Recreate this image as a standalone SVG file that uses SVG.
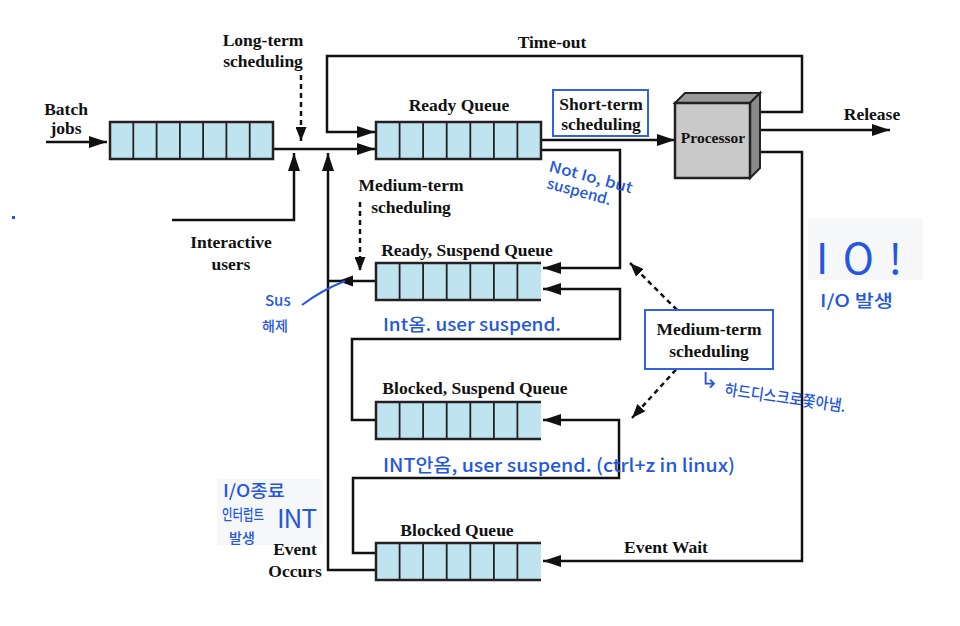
<svg xmlns="http://www.w3.org/2000/svg" width="960" height="626" viewBox="0 0 960 626">
<defs>
<style>
.lbl{font-family:"Liberation Serif","Times New Roman",serif;font-weight:bold;font-size:17.5px;fill:#111;text-anchor:middle}
.q{fill:#c0e4ef}
.qb{fill:none;stroke:#222;stroke-width:2.5}
.cell{stroke:#222;stroke-width:1.8}
.ln{fill:none;stroke:#111;stroke-width:2.5}
.dot{fill:none;stroke:#111;stroke-width:2.5;stroke-dasharray:5,4}
.hw{font-family:"Noto Sans CJK KR","Noto Sans",sans-serif;fill:#2457e0;font-size:16px}
.blue{fill:none;stroke:#2457e0;stroke-width:2}
</style>
<marker id="arr" markerUnits="userSpaceOnUse" markerWidth="18" markerHeight="12" refX="18" refY="6" viewBox="0 0 18 12" orient="auto">
<path d="M0,0 L18,6 L0,12 z" fill="#111"/>
</marker>
<marker id="arrs" markerUnits="userSpaceOnUse" markerWidth="14" markerHeight="11" refX="14" refY="5.5" viewBox="0 0 14 11" orient="auto">
<path d="M0,0 L14,5.5 L0,11 z" fill="#111"/>
</marker>
</defs>
<rect width="960" height="626" fill="#fff"/>

<!-- handwritten backgrounds -->
<rect x="808" y="218" width="115" height="62" fill="#f6f7f9"/>
<rect x="217" y="479" width="106" height="66" fill="#f6f7f9"/>

<g id="connectors">
<path class="ln" d="M46,142 H107" marker-end="url(#arr)"/>
<path class="ln" d="M273,149 H375" marker-end="url(#arr)"/>
<path class="dot" d="M301,75 V141" marker-end="url(#arrs)"/>
<path class="ln" d="M172,220 H294 V153" marker-end="url(#arr)"/>
<path class="ln" d="M376,570 H328 V153" marker-end="url(#arr)"/>
<path class="ln" d="M757,112 H802 V56 H327 V132 H375" marker-end="url(#arr)"/>
<path class="ln" d="M541,140 H675" marker-end="url(#arr)"/>
<path class="ln" d="M541,150 H620 V268 H543" marker-end="url(#arr)"/>
<path class="ln" d="M757,130 H890" marker-end="url(#arr)"/>
<path class="ln" d="M757,152 H802 V561 H543" marker-end="url(#arr)"/>
<path class="ln" d="M376,281 H328"/>
<polygon points="338,281 353,275.5 353,286.5" fill="#111"/>
<path class="dot" d="M360,202 V271" marker-end="url(#arrs)"/>
<path class="ln" d="M376,420 H352 V339 H620 V289 H543" marker-end="url(#arr)"/>
<path class="ln" d="M376,553 H353 V478 H619 V420 H543" marker-end="url(#arr)"/>
<path class="dot" d="M677,310 L630,263" marker-end="url(#arrs)"/>
<path class="dot" d="M682,363 L632,418" marker-end="url(#arrs)"/>
</g>

<g id="batch-queue">
<rect class="q" x="110" y="122" width="163" height="37"/>
<path class="cell" d="M133.3,122V159M156.6,122V159M179.9,122V159M203.1,122V159M226.4,122V159M249.7,122V159"/>
<rect class="qb" x="110" y="122" width="163" height="37"/>
</g>

<g id="ready-queue">
<rect class="q" x="376" y="122" width="165" height="37"/>
<path class="cell" d="M399.6,122V159M423.1,122V159M446.7,122V159M470.3,122V159M493.9,122V159M517.4,122V159"/>
<rect class="qb" x="376" y="122" width="165" height="37"/>
<text class="lbl" x="459" y="111">Ready Queue</text>
</g>

<g id="ready-suspend-queue">
<rect class="q" x="376" y="263" width="165" height="37"/>
<path class="cell" d="M399.6,263V300M423.1,263V300M446.7,263V300M470.3,263V300M493.9,263V300M517.4,263V300"/>
<path class="qb" d="M541,263 H376 V300 H541"/>
<text class="lbl" x="467" y="256">Ready, Suspend Queue</text>
</g>

<g id="blocked-suspend-queue">
<rect class="q" x="376" y="402" width="165" height="37"/>
<path class="cell" d="M399.6,402V439M423.1,402V439M446.7,402V439M470.3,402V439M493.9,402V439M517.4,402V439"/>
<path class="qb" d="M541,402 H376 V439 H541"/>
<text class="lbl" x="475" y="394">Blocked, Suspend Queue</text>
</g>

<g id="blocked-queue">
<rect class="q" x="376" y="543" width="165" height="37"/>
<path class="cell" d="M399.6,543V580M423.1,543V580M446.7,543V580M470.3,543V580M493.9,543V580M517.4,543V580"/>
<path class="qb" d="M541,543 H376 V580 H541"/>
<text class="lbl" x="457" y="536">Blocked Queue</text>
</g>

<g id="processor">
<path d="M675,103 L685,93 H760 L750,103 Z" fill="#9a9a9a" stroke="#222" stroke-width="2"/>
<path d="M750,103 L760,93 V168 L750,178 Z" fill="#8a8a8a" stroke="#222" stroke-width="2"/>
<rect x="675" y="103" width="75" height="75" fill="#c9c9c9" stroke="#222" stroke-width="2.5"/>
<text class="lbl" x="713" y="143" style="font-size:15.5px">Processor</text>
</g>

<g id="short-term">
<rect x="553" y="90" width="95" height="46" fill="#fff" stroke="#2f62e6" stroke-width="2"/>
<text class="lbl" x="601" y="110">Short-term</text>
<text class="lbl" x="601" y="130">scheduling</text>
</g>

<g id="medium-term-right">
<rect x="645" y="310" width="128" height="59" fill="#fff" stroke="#2f62e6" stroke-width="2"/>
<text class="lbl" x="709" y="335">Medium-term</text>
<text class="lbl" x="709" y="357">scheduling</text>
</g>

<g id="labels">
<text class="lbl" x="263" y="46">Long-term</text>
<text class="lbl" x="263" y="67">scheduling</text>
<text class="lbl" x="66" y="115">Batch</text>
<text class="lbl" x="66" y="134">jobs</text>
<text class="lbl" x="552" y="48">Time-out</text>
<text class="lbl" x="872" y="120">Release</text>
<text class="lbl" x="411" y="191">Medium-term</text>
<text class="lbl" x="411" y="213">scheduling</text>
<text class="lbl" x="231" y="248">Interactive</text>
<text class="lbl" x="231" y="270">users</text>
<text class="lbl" x="666" y="553">Event Wait</text>
<text class="lbl" x="295" y="555">Event</text>
<text class="lbl" x="295" y="577">Occurs</text>
</g>

<g id="annotations">
<text class="hw" x="548" y="171" transform="rotate(15 548 171)" style="font-size:15px;font-weight:500" textLength="86" lengthAdjust="spacingAndGlyphs">Not Io, but</text>
<text class="hw" x="546" y="188" transform="rotate(15 546 188)" style="font-size:15px;font-weight:500" textLength="66" lengthAdjust="spacingAndGlyphs">suspend.</text>
<text class="hw" x="265" y="306" style="font-size:15px;font-weight:500">Sus</text>
<text class="hw" x="262" y="331" style="font-size:14px;font-weight:500">해제</text>
<path class="blue" d="M302,305 Q322,290 345,281" stroke-width="2.5"/>
<text class="hw" x="383" y="331" textLength="178" lengthAdjust="spacingAndGlyphs" style="font-size:17px;font-weight:500">Int옴. user suspend.</text>
<text class="hw" x="816" y="274" style="font-size:42px;font-weight:400" textLength="86" lengthAdjust="spacing">IO!</text>
<text class="hw" x="820" y="307" style="font-size:17px;font-weight:500" textLength="73" lengthAdjust="spacingAndGlyphs">I/O 발생</text>
<text class="hw" x="700" y="388" style="font-size:22px">↳</text>
<text class="hw" x="724" y="395" transform="rotate(8 724 395)" style="font-size:16px;font-weight:500" textLength="122" lengthAdjust="spacingAndGlyphs">하드디스크로쫓아냄.</text>
<text class="hw" x="383" y="472" textLength="352" lengthAdjust="spacingAndGlyphs" style="font-size:18px;font-weight:500">INT안옴, user suspend. (ctrl+z in linux)</text>
<text class="hw" x="223" y="497" style="font-size:17px;font-weight:500" textLength="62" lengthAdjust="spacingAndGlyphs">I/O종료</text>
<text class="hw" x="222" y="520" style="font-size:15px;font-weight:500" textLength="42" lengthAdjust="spacingAndGlyphs">인터럽트</text>
<text class="hw" x="229" y="543" style="font-size:14px;font-weight:500">발생</text>
<text class="hw" x="277" y="528" style="font-size:26px;font-weight:400" textLength="40" lengthAdjust="spacing">INT</text>
<rect x="12" y="216" width="3" height="3" fill="#2457e0"/>
</g>
</svg>
